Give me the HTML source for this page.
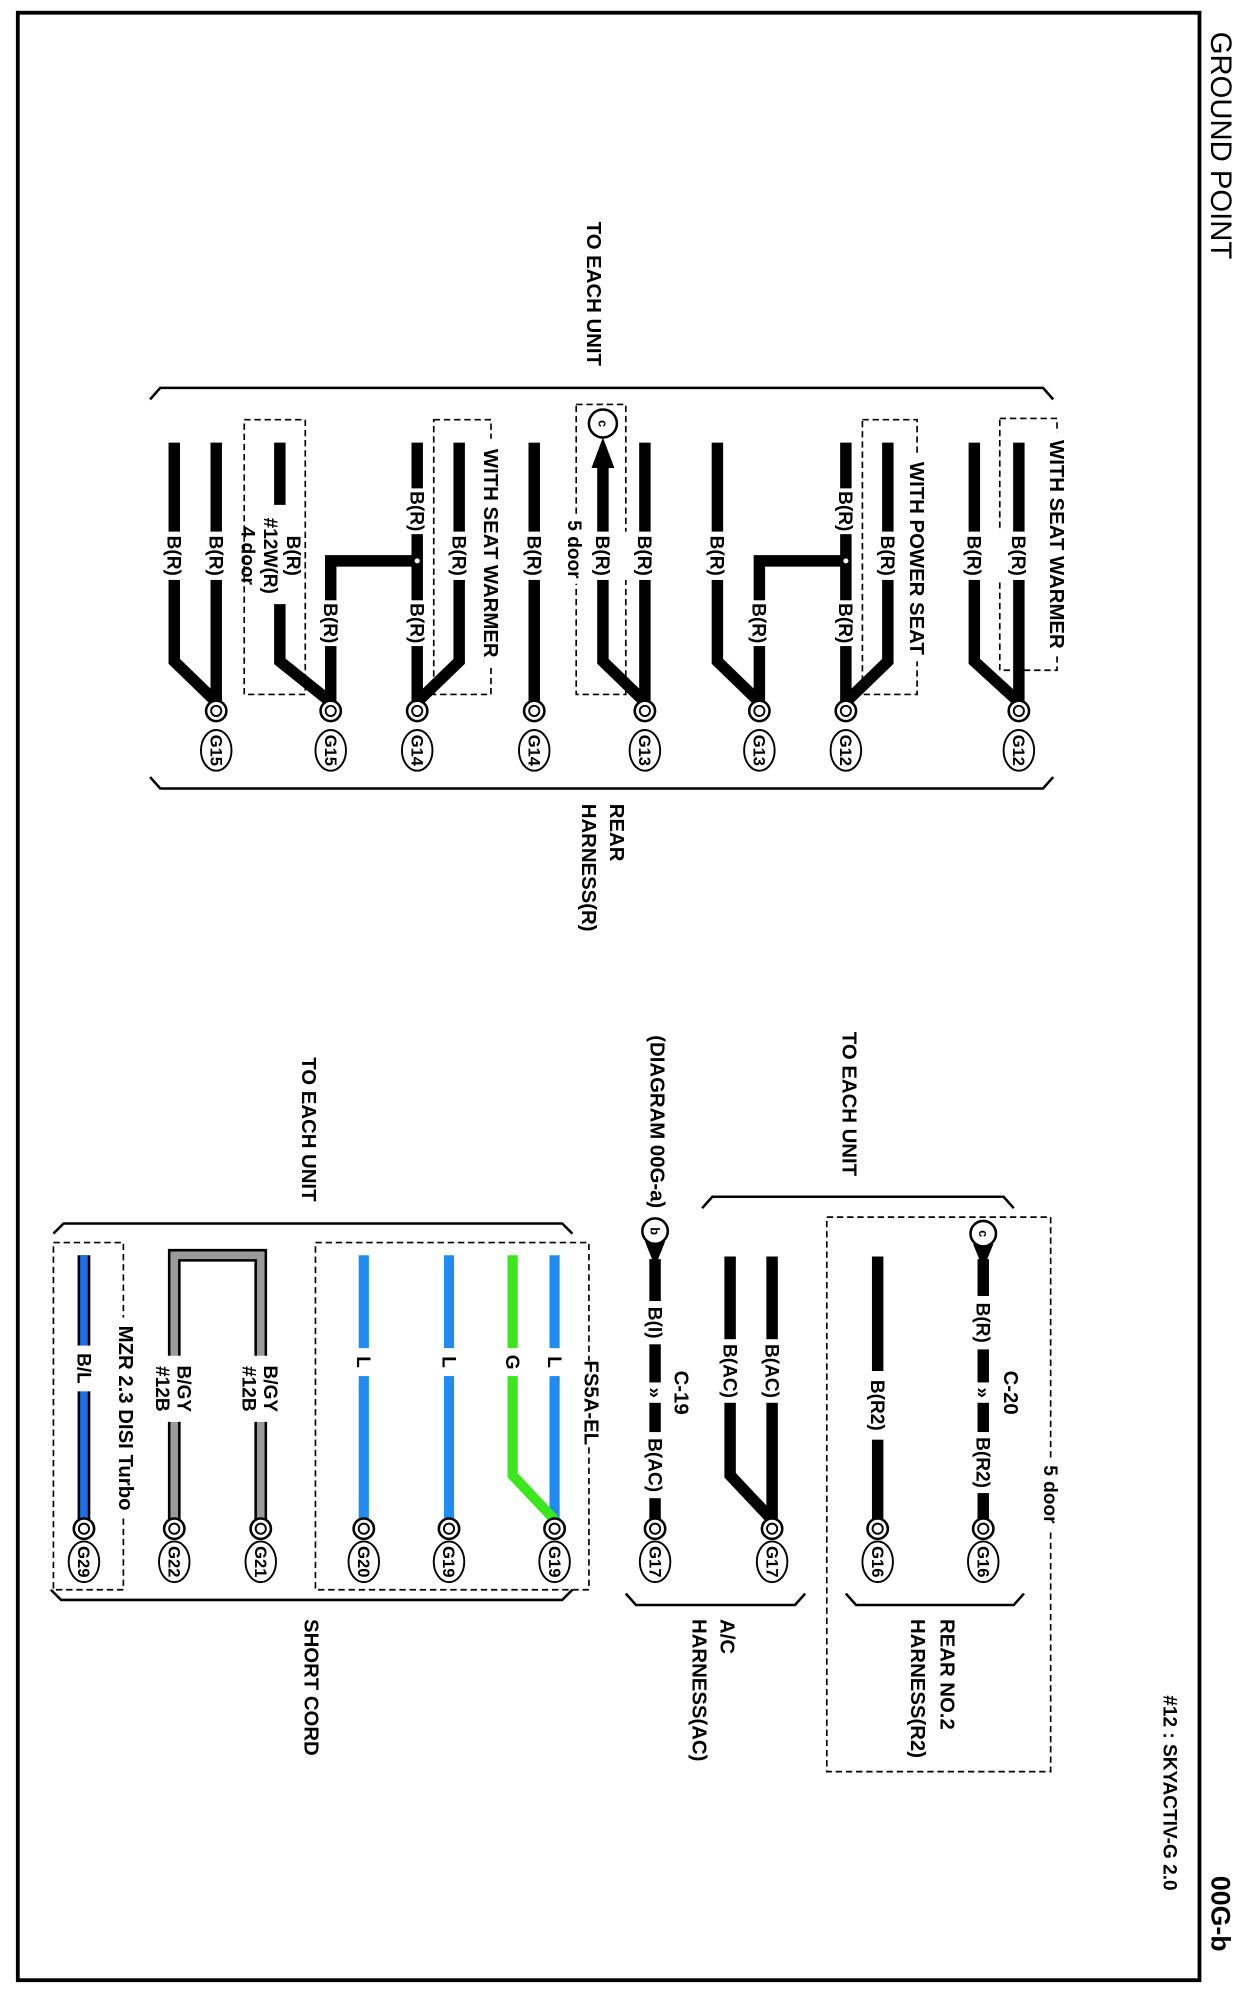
<!DOCTYPE html>
<html><head><meta charset="utf-8"><style>
html,body{margin:0;padding:0;background:#fff;}
svg{display:block;}
text{font-family:"Liberation Sans",Arial,sans-serif;fill:#000;}
.l{font-size:15px;font-weight:bold;}
.h{font-size:16px;font-weight:bold;}
.g{font-size:13px;font-weight:bold;}
.w{stroke:#000;stroke-width:9;fill:none;stroke-linejoin:miter;}
.d{stroke:#000;stroke-width:1.3;fill:none;stroke-dasharray:5,3;}
.b{stroke:#000;stroke-width:2;fill:none;}
</style></head><body>
<svg width="1244" height="1998" viewBox="0 0 978 1571" preserveAspectRatio="none" xmlns="http://www.w3.org/2000/svg">
<rect x="0" y="0" width="978" height="1571" fill="#fff"/>
<rect x="14" y="10" width="929" height="1547" fill="none" stroke="#000" stroke-width="3"/>
<text class="h" transform="translate(960,25) rotate(90)" dy="0.35em" style="font-size:23px;font-weight:normal">GROUND POINT</text>
<text class="h" transform="translate(960,1475) rotate(90)" dy="0.35em" style="font-size:21px">00G-b</text>
<text class="l" transform="translate(920,1333) rotate(90)" dy="0.35em">#12 : SKYACTIV-G 2.0</text>

<!-- upper brackets -->
<polyline class="b" points="118,314 126,305 820,305 828,314"/>
<polyline class="b" points="118,611 126,620 820,620 828,611"/>
<text class="h" transform="translate(467,231) rotate(90)" text-anchor="middle" dy="0.35em">TO EACH UNIT</text>
<text class="h" transform="translate(485,632) rotate(90)" dy="0.35em">REAR</text>
<text class="h" transform="translate(463,632) rotate(90)" dy="0.35em">HARNESS(R)</text>

<!-- dashed boxes upper -->
<rect class="d" x="786" y="329" width="45" height="198"/>
<rect class="d" x="678" y="330" width="43" height="216"/>
<rect class="d" x="453" y="318" width="39" height="228"/>
<rect class="d" x="341" y="330" width="45" height="216"/>
<rect class="d" x="192" y="330" width="48" height="216"/>

<!-- upper wires -->
<path class="w" d="M801,348V559"/>
<path class="w" d="M766,348V520L801,552"/>
<path class="w" d="M698,348V520L665,552"/>
<path class="w" d="M665,348V559"/>
<path class="w" d="M665,441H597V559"/>
<path class="w" d="M564,348V520L597,552"/>
<path class="w" d="M507,348V559"/>
<path class="w" d="M474,366V520L507,552"/>
<polygon points="474,344 465,368 483,368" fill="#000"/>
<path class="w" d="M420,348V559"/>
<path class="w" d="M361,348V520L328,552"/>
<path class="w" d="M328,348V559"/>
<path class="w" d="M328,441H260V559"/>
<path class="w" d="M220,348V397"/>
<path class="w" d="M220,475V520L260,552"/>
<path class="w" d="M170,348V559"/>
<path class="w" d="M137,348V520L170,552"/>

<circle cx="665" cy="441" r="2.5" fill="#fff" stroke="#000" stroke-width="1"/>
<circle cx="328" cy="441" r="2.5" fill="#fff" stroke="#000" stroke-width="1"/>

<g fill="#fff">
<rect x="755" y="418" width="55" height="38"/>
<rect x="688" y="418" width="20" height="38"/>
<rect x="655" y="384" width="20" height="36"/><rect x="655" y="472" width="20" height="36"/>
<rect x="587" y="472" width="20" height="36"/>
<rect x="554" y="418" width="20" height="38"/>
<rect x="464" y="418" width="53" height="38"/>
<rect x="410" y="418" width="20" height="38"/>
<rect x="351" y="418" width="20" height="38"/>
<rect x="318" y="384" width="20" height="36"/><rect x="318" y="472" width="20" height="36"/>
<rect x="250" y="472" width="20" height="36"/>
<rect x="127" y="418" width="53" height="38"/>
</g>
<g>
<text transform="translate(801,437) rotate(90)" text-anchor="middle" dy="0.35em" class="l">B(R)</text>
<text transform="translate(766,437) rotate(90)" text-anchor="middle" dy="0.35em" class="l">B(R)</text>
<text transform="translate(698,437) rotate(90)" text-anchor="middle" dy="0.35em" class="l">B(R)</text>
<text transform="translate(665,402) rotate(90)" text-anchor="middle" dy="0.35em" class="l">B(R)</text>
<text transform="translate(665,490) rotate(90)" text-anchor="middle" dy="0.35em" class="l">B(R)</text>
<text transform="translate(597,490) rotate(90)" text-anchor="middle" dy="0.35em" class="l">B(R)</text>
<text transform="translate(564,437) rotate(90)" text-anchor="middle" dy="0.35em" class="l">B(R)</text>
<text transform="translate(507,437) rotate(90)" text-anchor="middle" dy="0.35em" class="l">B(R)</text>
<text transform="translate(474,437) rotate(90)" text-anchor="middle" dy="0.35em" class="l">B(R)</text>
<text transform="translate(420,437) rotate(90)" text-anchor="middle" dy="0.35em" class="l">B(R)</text>
<text transform="translate(361,437) rotate(90)" text-anchor="middle" dy="0.35em" class="l">B(R)</text>
<text transform="translate(328,402) rotate(90)" text-anchor="middle" dy="0.35em" class="l">B(R)</text>
<text transform="translate(328,490) rotate(90)" text-anchor="middle" dy="0.35em" class="l">B(R)</text>
<text transform="translate(260,490) rotate(90)" text-anchor="middle" dy="0.35em" class="l">B(R)</text>
<text transform="translate(231,437) rotate(90)" text-anchor="middle" dy="0.35em" class="l">B(R)</text>
<text transform="translate(213,437) rotate(90)" text-anchor="middle" dy="0.35em" class="l">#12W(R)</text>
<text transform="translate(195,437) rotate(90)" text-anchor="middle" dy="0.35em" class="l">4 door</text>
<text transform="translate(170,437) rotate(90)" text-anchor="middle" dy="0.35em" class="l">B(R)</text>
<text transform="translate(137,437) rotate(90)" text-anchor="middle" dy="0.35em" class="l">B(R)</text>
</g>
<rect x="823" y="340" width="16" height="176" fill="#fff"/>
<text class="h" transform="translate(831,428) rotate(90)" text-anchor="middle" dy="0.35em">WITH SEAT WARMER</text>
<rect x="713" y="358" width="16" height="162" fill="#fff"/>
<text class="h" transform="translate(721,439) rotate(90)" text-anchor="middle" dy="0.35em">WITH POWER SEAT</text>
<rect x="378" y="345" width="16" height="180" fill="#fff"/>
<text class="h" transform="translate(386,435) rotate(90)" text-anchor="middle" dy="0.35em">WITH SEAT WARMER</text>
<rect x="445" y="405" width="15" height="54" fill="#fff"/>
<text class="l" transform="translate(452,432) rotate(90)" text-anchor="middle" dy="0.35em">5 door</text>
<circle cx="474" cy="333" r="11" fill="#fff" stroke="#000" stroke-width="2"/>
<text class="g" transform="translate(474,333) rotate(90)" text-anchor="middle" dy="0.35em" style="font-size:10px">c</text>

<!-- upper grounds -->
<g stroke="#000" fill="#fff">
<circle cx="801" cy="559" r="8" stroke-width="2"/><circle cx="801" cy="559" r="4" stroke-width="1.5"/>
<circle cx="665" cy="559" r="8" stroke-width="2"/><circle cx="665" cy="559" r="4" stroke-width="1.5"/>
<circle cx="597" cy="559" r="8" stroke-width="2"/><circle cx="597" cy="559" r="4" stroke-width="1.5"/>
<circle cx="507" cy="559" r="8" stroke-width="2"/><circle cx="507" cy="559" r="4" stroke-width="1.5"/>
<circle cx="420" cy="559" r="8" stroke-width="2"/><circle cx="420" cy="559" r="4" stroke-width="1.5"/>
<circle cx="328" cy="559" r="8" stroke-width="2"/><circle cx="328" cy="559" r="4" stroke-width="1.5"/>
<circle cx="260" cy="559" r="8" stroke-width="2"/><circle cx="260" cy="559" r="4" stroke-width="1.5"/>
<circle cx="170" cy="559" r="8" stroke-width="2"/><circle cx="170" cy="559" r="4" stroke-width="1.5"/>
<ellipse cx="801" cy="590" rx="12" ry="16" stroke-width="1.5"/>
<ellipse cx="665" cy="590" rx="12" ry="16" stroke-width="1.5"/>
<ellipse cx="597" cy="590" rx="12" ry="16" stroke-width="1.5"/>
<ellipse cx="507" cy="590" rx="12" ry="16" stroke-width="1.5"/>
<ellipse cx="420" cy="590" rx="12" ry="16" stroke-width="1.5"/>
<ellipse cx="328" cy="590" rx="12" ry="16" stroke-width="1.5"/>
<ellipse cx="260" cy="590" rx="12" ry="16" stroke-width="1.5"/>
<ellipse cx="170" cy="590" rx="12" ry="16" stroke-width="1.5"/>
</g>
<g>
<text class="g" transform="translate(801,590) rotate(90)" text-anchor="middle" dy="0.35em">G12</text>
<text class="g" transform="translate(665,590) rotate(90)" text-anchor="middle" dy="0.35em">G12</text>
<text class="g" transform="translate(597,590) rotate(90)" text-anchor="middle" dy="0.35em">G13</text>
<text class="g" transform="translate(507,590) rotate(90)" text-anchor="middle" dy="0.35em">G13</text>
<text class="g" transform="translate(420,590) rotate(90)" text-anchor="middle" dy="0.35em">G14</text>
<text class="g" transform="translate(328,590) rotate(90)" text-anchor="middle" dy="0.35em">G14</text>
<text class="g" transform="translate(260,590) rotate(90)" text-anchor="middle" dy="0.35em">G15</text>
<text class="g" transform="translate(170,590) rotate(90)" text-anchor="middle" dy="0.35em">G15</text>
</g>

<!-- ===== lower right ===== -->
<polyline class="b" points="552,950 560,941 789,941 797,950"/>
<text class="h" transform="translate(668,868) rotate(90)" text-anchor="middle" dy="0.35em">TO EACH UNIT</text>
<text class="h" transform="translate(517,882) rotate(90)" text-anchor="middle" dy="0.35em">(DIAGRAM 00G-a)</text>
<rect class="d" x="650" y="957" width="176" height="436"/>
<rect x="818" y="1146" width="16" height="58" fill="#fff"/>
<text class="l" transform="translate(826,1175) rotate(90)" text-anchor="middle" dy="0.35em">5 door</text>
<polyline class="b" points="492,1253 500,1262 625,1262 633,1253"/>
<polyline class="b" points="665,1253 673,1262 797,1262 805,1253"/>
<text class="h" transform="translate(572,1273) rotate(90)" dy="0.35em">A/C</text>
<text class="h" transform="translate(550,1273) rotate(90)" dy="0.35em">HARNESS(AC)</text>
<text class="h" transform="translate(745,1273) rotate(90)" dy="0.35em">REAR NO.2</text>
<text class="h" transform="translate(722,1273) rotate(90)" dy="0.35em">HARNESS(R2)</text>

<path class="w" d="M773,990V1202"/>
<path class="w" d="M690,988V1202"/>
<path class="w" d="M607,988V1202"/>
<path class="w" d="M574,988V1160L607,1195"/>
<path class="w" d="M515,990V1202"/>
<polygon points="765,978 781,978 773,998" fill="#000"/>
<polygon points="507,976 523,976 515,996" fill="#000"/>
<g fill="#fff">
<rect x="763" y="1019" width="20" height="42"/><rect x="763" y="1087" width="20" height="16"/><rect x="763" y="1126" width="20" height="48"/>
<rect x="680" y="1078" width="20" height="54"/>
<rect x="564" y="1053" width="53" height="50"/>
<rect x="505" y="1023" width="20" height="34"/><rect x="505" y="1087" width="20" height="16"/><rect x="505" y="1126" width="20" height="52"/>
</g>
<g>
<text class="l" transform="translate(773,1040) rotate(90)" text-anchor="middle" dy="0.35em">B(R)</text>
<text class="l" transform="translate(773,1095) rotate(90)" text-anchor="middle" dy="0.35em">»</text>
<text class="h" transform="translate(795,1095) rotate(90)" text-anchor="middle" dy="0.35em">C-20</text>
<text class="l" transform="translate(773,1150) rotate(90)" text-anchor="middle" dy="0.35em">B(R2)</text>
<text class="l" transform="translate(690,1105) rotate(90)" text-anchor="middle" dy="0.35em">B(R2)</text>
<text class="l" transform="translate(607,1078) rotate(90)" text-anchor="middle" dy="0.35em">B(AC)</text>
<text class="l" transform="translate(574,1078) rotate(90)" text-anchor="middle" dy="0.35em">B(AC)</text>
<text class="l" transform="translate(515,1040) rotate(90)" text-anchor="middle" dy="0.35em">B(I)</text>
<text class="l" transform="translate(515,1095) rotate(90)" text-anchor="middle" dy="0.35em">»</text>
<text class="h" transform="translate(536,1095) rotate(90)" text-anchor="middle" dy="0.35em">C-19</text>
<text class="l" transform="translate(515,1152) rotate(90)" text-anchor="middle" dy="0.35em">B(AC)</text>
</g>
<circle cx="773" cy="970" r="10" fill="#fff" stroke="#000" stroke-width="2"/>
<text class="g" transform="translate(773,970) rotate(90)" text-anchor="middle" dy="0.35em" style="font-size:10px">c</text>
<circle cx="515" cy="968" r="10" fill="#fff" stroke="#000" stroke-width="2"/>
<text class="g" transform="translate(515,968) rotate(90)" text-anchor="middle" dy="0.35em" style="font-size:10px">b</text>

<!-- ===== lower left ===== -->
<polyline class="b" points="42,970 50,962 442,962 450,970"/>
<polyline class="b" points="40,1250 48,1258 442,1258 450,1250"/>
<text class="h" transform="translate(243,888) rotate(90)" text-anchor="middle" dy="0.35em">TO EACH UNIT</text>
<text class="h" transform="translate(245,1273) rotate(90)" dy="0.35em">SHORT CORD</text>
<rect class="d" x="248" y="977" width="215" height="273"/>
<rect class="d" x="42" y="977" width="55" height="273"/>
<rect x="457" y="1070" width="16" height="66" fill="#fff"/>
<text class="h" transform="translate(465,1103) rotate(90)" text-anchor="middle" dy="0.35em">FS5A-EL</text>
<rect x="91" y="1036" width="16" height="158" fill="#fff"/>
<text class="h" transform="translate(99,1115) rotate(90)" text-anchor="middle" dy="0.35em">MZR 2.3 DISI Turbo</text>

<path d="M436,987V1202" stroke="#1e8cf0" stroke-width="8" fill="none"/>
<path d="M403,987V1160L436,1195" stroke="#3ce61e" stroke-width="8" fill="none"/>
<path d="M353,987V1202" stroke="#1e8cf0" stroke-width="8" fill="none"/>
<path d="M286,987V1202" stroke="#1e8cf0" stroke-width="8" fill="none"/>
<path d="M137,1202V987H205V1202" stroke="#000" stroke-width="10" fill="none"/>
<path d="M137,1202V987H205V1202" stroke="#9a9a9a" stroke-width="6" fill="none"/>
<path d="M66,987V1202" stroke="#000" stroke-width="10" fill="none"/>
<path d="M66,987V1202" stroke="#1e6ee8" stroke-width="6" fill="none"/>
<g fill="#fff">
<rect x="428" y="1060" width="16" height="22"/>
<rect x="395" y="1060" width="16" height="22"/>
<rect x="345" y="1060" width="16" height="22"/>
<rect x="278" y="1060" width="16" height="22"/>
<rect x="188" y="1066" width="34" height="52"/>
<rect x="120" y="1066" width="34" height="52"/>
<rect x="58" y="1058" width="16" height="36"/>
</g>
<g>
<text class="l" transform="translate(436,1071) rotate(90)" text-anchor="middle" dy="0.35em">L</text>
<text class="l" transform="translate(403,1071) rotate(90)" text-anchor="middle" dy="0.35em">G</text>
<text class="l" transform="translate(353,1071) rotate(90)" text-anchor="middle" dy="0.35em">L</text>
<text class="l" transform="translate(286,1071) rotate(90)" text-anchor="middle" dy="0.35em">L</text>
<text class="l" transform="translate(213,1092) rotate(90)" text-anchor="middle" dy="0.35em">B/GY</text>
<text class="l" transform="translate(196,1092) rotate(90)" text-anchor="middle" dy="0.35em">#12B</text>
<text class="l" transform="translate(145,1092) rotate(90)" text-anchor="middle" dy="0.35em">B/GY</text>
<text class="l" transform="translate(128,1092) rotate(90)" text-anchor="middle" dy="0.35em">#12B</text>
<text class="l" transform="translate(66,1076) rotate(90)" text-anchor="middle" dy="0.35em">B/L</text>
</g>

<!-- lower grounds -->
<g stroke="#000" fill="#fff">
<circle cx="773" cy="1202" r="8" stroke-width="2"/><circle cx="773" cy="1202" r="4" stroke-width="1.5"/>
<circle cx="690" cy="1202" r="8" stroke-width="2"/><circle cx="690" cy="1202" r="4" stroke-width="1.5"/>
<circle cx="607" cy="1202" r="8" stroke-width="2"/><circle cx="607" cy="1202" r="4" stroke-width="1.5"/>
<circle cx="515" cy="1202" r="8" stroke-width="2"/><circle cx="515" cy="1202" r="4" stroke-width="1.5"/>
<circle cx="436" cy="1202" r="8" stroke-width="2"/><circle cx="436" cy="1202" r="4" stroke-width="1.5"/>
<circle cx="353" cy="1202" r="8" stroke-width="2"/><circle cx="353" cy="1202" r="4" stroke-width="1.5"/>
<circle cx="286" cy="1202" r="8" stroke-width="2"/><circle cx="286" cy="1202" r="4" stroke-width="1.5"/>
<circle cx="205" cy="1202" r="8" stroke-width="2"/><circle cx="205" cy="1202" r="4" stroke-width="1.5"/>
<circle cx="137" cy="1202" r="8" stroke-width="2"/><circle cx="137" cy="1202" r="4" stroke-width="1.5"/>
<circle cx="66" cy="1202" r="8" stroke-width="2"/><circle cx="66" cy="1202" r="4" stroke-width="1.5"/>
<ellipse cx="773" cy="1228" rx="12" ry="16" stroke-width="1.5"/>
<ellipse cx="690" cy="1228" rx="12" ry="16" stroke-width="1.5"/>
<ellipse cx="607" cy="1228" rx="12" ry="16" stroke-width="1.5"/>
<ellipse cx="515" cy="1228" rx="12" ry="16" stroke-width="1.5"/>
<ellipse cx="436" cy="1228" rx="12" ry="16" stroke-width="1.5"/>
<ellipse cx="353" cy="1228" rx="12" ry="16" stroke-width="1.5"/>
<ellipse cx="286" cy="1228" rx="12" ry="16" stroke-width="1.5"/>
<ellipse cx="205" cy="1228" rx="12" ry="16" stroke-width="1.5"/>
<ellipse cx="137" cy="1228" rx="12" ry="16" stroke-width="1.5"/>
<ellipse cx="66" cy="1228" rx="12" ry="16" stroke-width="1.5"/>
</g>
<g>
<text class="g" transform="translate(773,1228) rotate(90)" text-anchor="middle" dy="0.35em">G16</text>
<text class="g" transform="translate(690,1228) rotate(90)" text-anchor="middle" dy="0.35em">G16</text>
<text class="g" transform="translate(607,1228) rotate(90)" text-anchor="middle" dy="0.35em">G17</text>
<text class="g" transform="translate(515,1228) rotate(90)" text-anchor="middle" dy="0.35em">G17</text>
<text class="g" transform="translate(436,1228) rotate(90)" text-anchor="middle" dy="0.35em">G19</text>
<text class="g" transform="translate(353,1228) rotate(90)" text-anchor="middle" dy="0.35em">G19</text>
<text class="g" transform="translate(286,1228) rotate(90)" text-anchor="middle" dy="0.35em">G20</text>
<text class="g" transform="translate(205,1228) rotate(90)" text-anchor="middle" dy="0.35em">G21</text>
<text class="g" transform="translate(137,1228) rotate(90)" text-anchor="middle" dy="0.35em">G22</text>
<text class="g" transform="translate(66,1228) rotate(90)" text-anchor="middle" dy="0.35em">G29</text>
</g>
</svg>
</body></html>
